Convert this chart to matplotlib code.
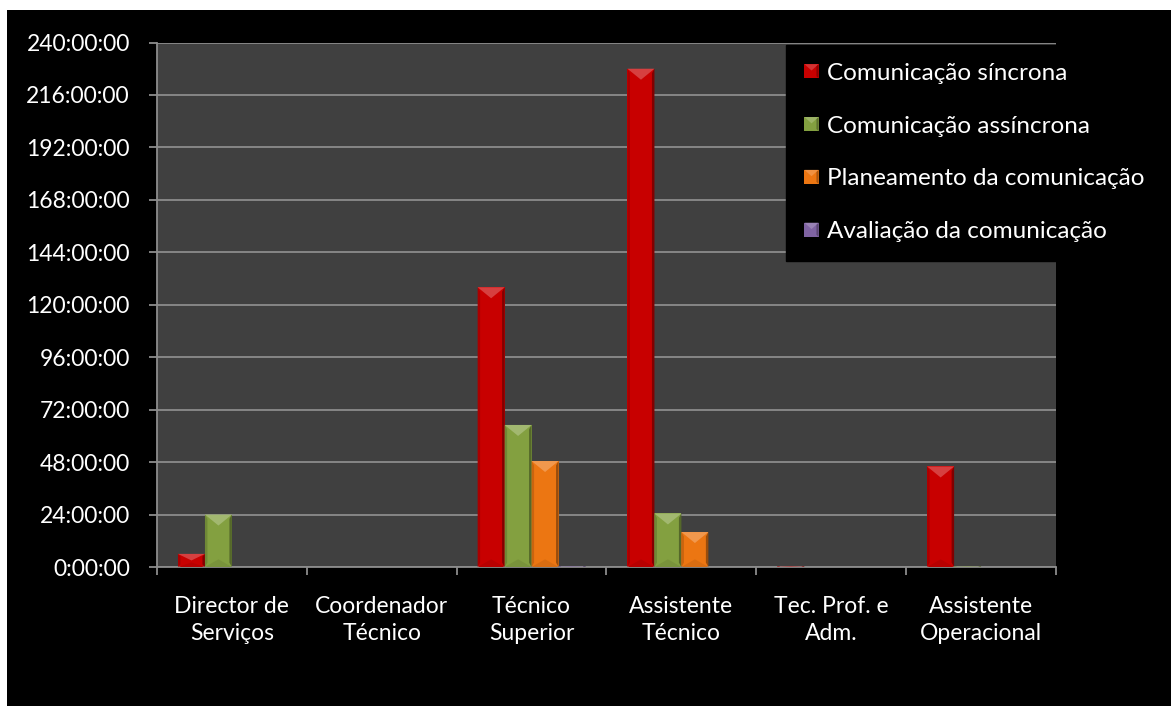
import numpy as np
import matplotlib
matplotlib.use("Agg")
import matplotlib.pyplot as plt
from matplotlib.patches import Rectangle, Polygon
from matplotlib.legend_handler import HandlerBase
from matplotlib.ticker import FuncFormatter, FixedLocator
from matplotlib.colors import to_rgb

plt.rcParams['font.family'] = ['Lato', 'DejaVu Sans']

# Time spent per professional category (hours)
categories = ["Director de\nServiços", "Coordenador\nTécnico", "Técnico\nSuperior",
              "Assistente\nTécnico", "Tec. Prof. e\nAdm.", "Assistente\nOperacional"]
series_names = ["Comunicação síncrona", "Comunicação assíncrona",
                "Planeamento da comunicação", "Avaliação da comunicação"]
sincrona = [6, 0, 128, 228, 0.3, 46]
assincrona = [24, 0, 65, 24.5, 0, 0.3]
planeamento = [0, 0, 48.5, 16, 0, 0]
avaliacao = [0, 0, 0.4, 0, 0, 0]
y_ticks = list(range(0, 241, 24))

series = [sincrona, assincrona, planeamento, avaliacao]
colors = ["#C80000", "#83A040", "#EC7612", "#7F63A2"]

W, H, DPI = 1171, 706, 100
fig = plt.figure(figsize=(W / DPI, H / DPI), dpi=DPI, facecolor="white")

# black chart area with a thin white margin on the top/left
fig.patches.append(Rectangle((7 / W, 0), 1 - 7 / W, 1 - 10 / H,
                             transform=fig.transFigure, facecolor="black",
                             edgecolor="none", zorder=-10))

ax_l, ax_r, ax_t, ax_b = 157, 1056, 42.5, 567
ax = fig.add_axes([ax_l / W, 1 - ax_b / H, (ax_r - ax_l) / W, (ax_b - ax_t) / H])
ax.set_facecolor("#404040")

n = len(categories)
ax.set_xlim(-0.5, n - 0.5)
ax.set_ylim(0, 240)

tick_fs = 16.5
legend_fs = 17.5
grid_c = "#8C8C8C"
ax.yaxis.set_major_locator(FixedLocator(y_ticks))
ax.yaxis.set_major_formatter(FuncFormatter(lambda v, p: f"{int(round(v))}:00:00"))
ax.grid(axis="y", color=grid_c, linewidth=1.3, zorder=0)
ax.set_axisbelow(True)

for s in ["top", "right"]:
    ax.spines[s].set_visible(False)
for s in ["left", "bottom"]:
    ax.spines[s].set_color(grid_c)
    ax.spines[s].set_linewidth(1.3)

ax.tick_params(axis="y", colors=grid_c, length=5.5, width=1.3, pad=14,
               labelcolor="white", labelsize=tick_fs)
ax.set_xticks(np.arange(n + 1) - 0.5)
ax.set_xticklabels([])
ax.set_xticks(np.arange(n), minor=True)
ax.set_xticklabels(categories, minor=True, color="white", fontsize=tick_fs,
                   linespacing=1.35)
ax.tick_params(axis="x", which="major", colors=grid_c, length=6, width=1.3)
ax.tick_params(axis="x", which="minor", length=0, pad=21)

bar_w = 0.18
x = np.arange(n)
px_per_h = (ax_b - ax_t) / 240.0
px_per_x = (ax_r - ax_l) / n


def shade(c, f):
    r, g, b = to_rgb(c)
    if f >= 0:
        return (r + (1 - r) * f, g + (1 - g) * f, b + (1 - b) * f)
    return (r * (1 + f), g * (1 + f), b * (1 + f))


def bevel(ax, bx, bw, bh, color):
    """Shade a bar with a lighter top facet and darker side edges."""
    if bh <= 0:
        return
    d = min(11 / px_per_h, bh / 2)
    sb = min(2.5 / px_per_x, bw / 4)
    ax.add_patch(Polygon([(bx, 0), (bx, bh), (bx + sb, bh - d * 0.4), (bx + sb, d * 0.4)],
                         closed=True, facecolor=shade(color, -0.15), edgecolor="none", zorder=3))
    ax.add_patch(Polygon([(bx + bw, 0), (bx + bw, bh), (bx + bw - sb, bh - d * 0.4),
                          (bx + bw - sb, d * 0.4)],
                         closed=True, facecolor=shade(color, -0.35), edgecolor="none", zorder=3))
    ax.add_patch(Polygon([(bx, bh), (bx + bw, bh), (bx + bw / 2, bh - d)],
                         closed=True, facecolor=shade(color, 0.25), edgecolor="none", zorder=3))
    ax.add_patch(Polygon([(bx, 0), (bx + bw, 0), (bx + bw / 2, d * 0.7)],
                         closed=True, facecolor=shade(color, -0.08), edgecolor="none", zorder=3))


for i, (vals, col, name) in enumerate(zip(series, colors, series_names)):
    offs = (i - 1.5) * bar_w
    bars = ax.bar(x + offs, vals, width=bar_w, color=col, edgecolor="none",
                  zorder=2, label=name)
    for p in bars.patches:
        bevel(ax, p.get_x(), p.get_width(), p.get_height(), col)


class BevelHandler(HandlerBase):
    def create_artists(self, legend, orig_handle, xdescent, ydescent, width,
                       height, fontsize, trans):
        c = to_rgb(orig_handle.patches[0].get_facecolor())
        s = fontsize * 0.58
        x0 = -xdescent + (width - s) / 2
        y0 = -ydescent + (height - s) / 2
        arts = [Rectangle((x0, y0), s, s, facecolor=c, edgecolor="none")]
        arts.append(Polygon([(x0, y0 + s), (x0 + s, y0 + s), (x0 + s / 2, y0 + s * 0.55)],
                            facecolor=shade(c, 0.2), edgecolor="none"))
        arts.append(Polygon([(x0 + s, y0), (x0 + s, y0 + s), (x0 + s * 0.85, y0 + s * 0.85),
                             (x0 + s * 0.85, y0 + s * 0.15)],
                            facecolor=shade(c, -0.3), edgecolor="none"))
        for a in arts:
            a.set_transform(trans)
        return arts


handles, labels = ax.get_legend_handles_labels()
leg = ax.legend(handles, labels, loc="upper left",
                bbox_to_anchor=(786 / W, 1 - 44.5 / H), bbox_transform=fig.transFigure,
                frameon=True, facecolor="black", edgecolor="black", framealpha=1,
                fancybox=False, fontsize=legend_fs, labelcolor="white",
                handler_map={type(handles[0]): BevelHandler()},
                handlelength=0.6, handleheight=0.7, handletextpad=0.35,
                labelspacing=1.31, borderpad=0.75, borderaxespad=0)
leg.set_zorder(5)

fig.savefig("out.png", dpi=DPI, facecolor="white")
